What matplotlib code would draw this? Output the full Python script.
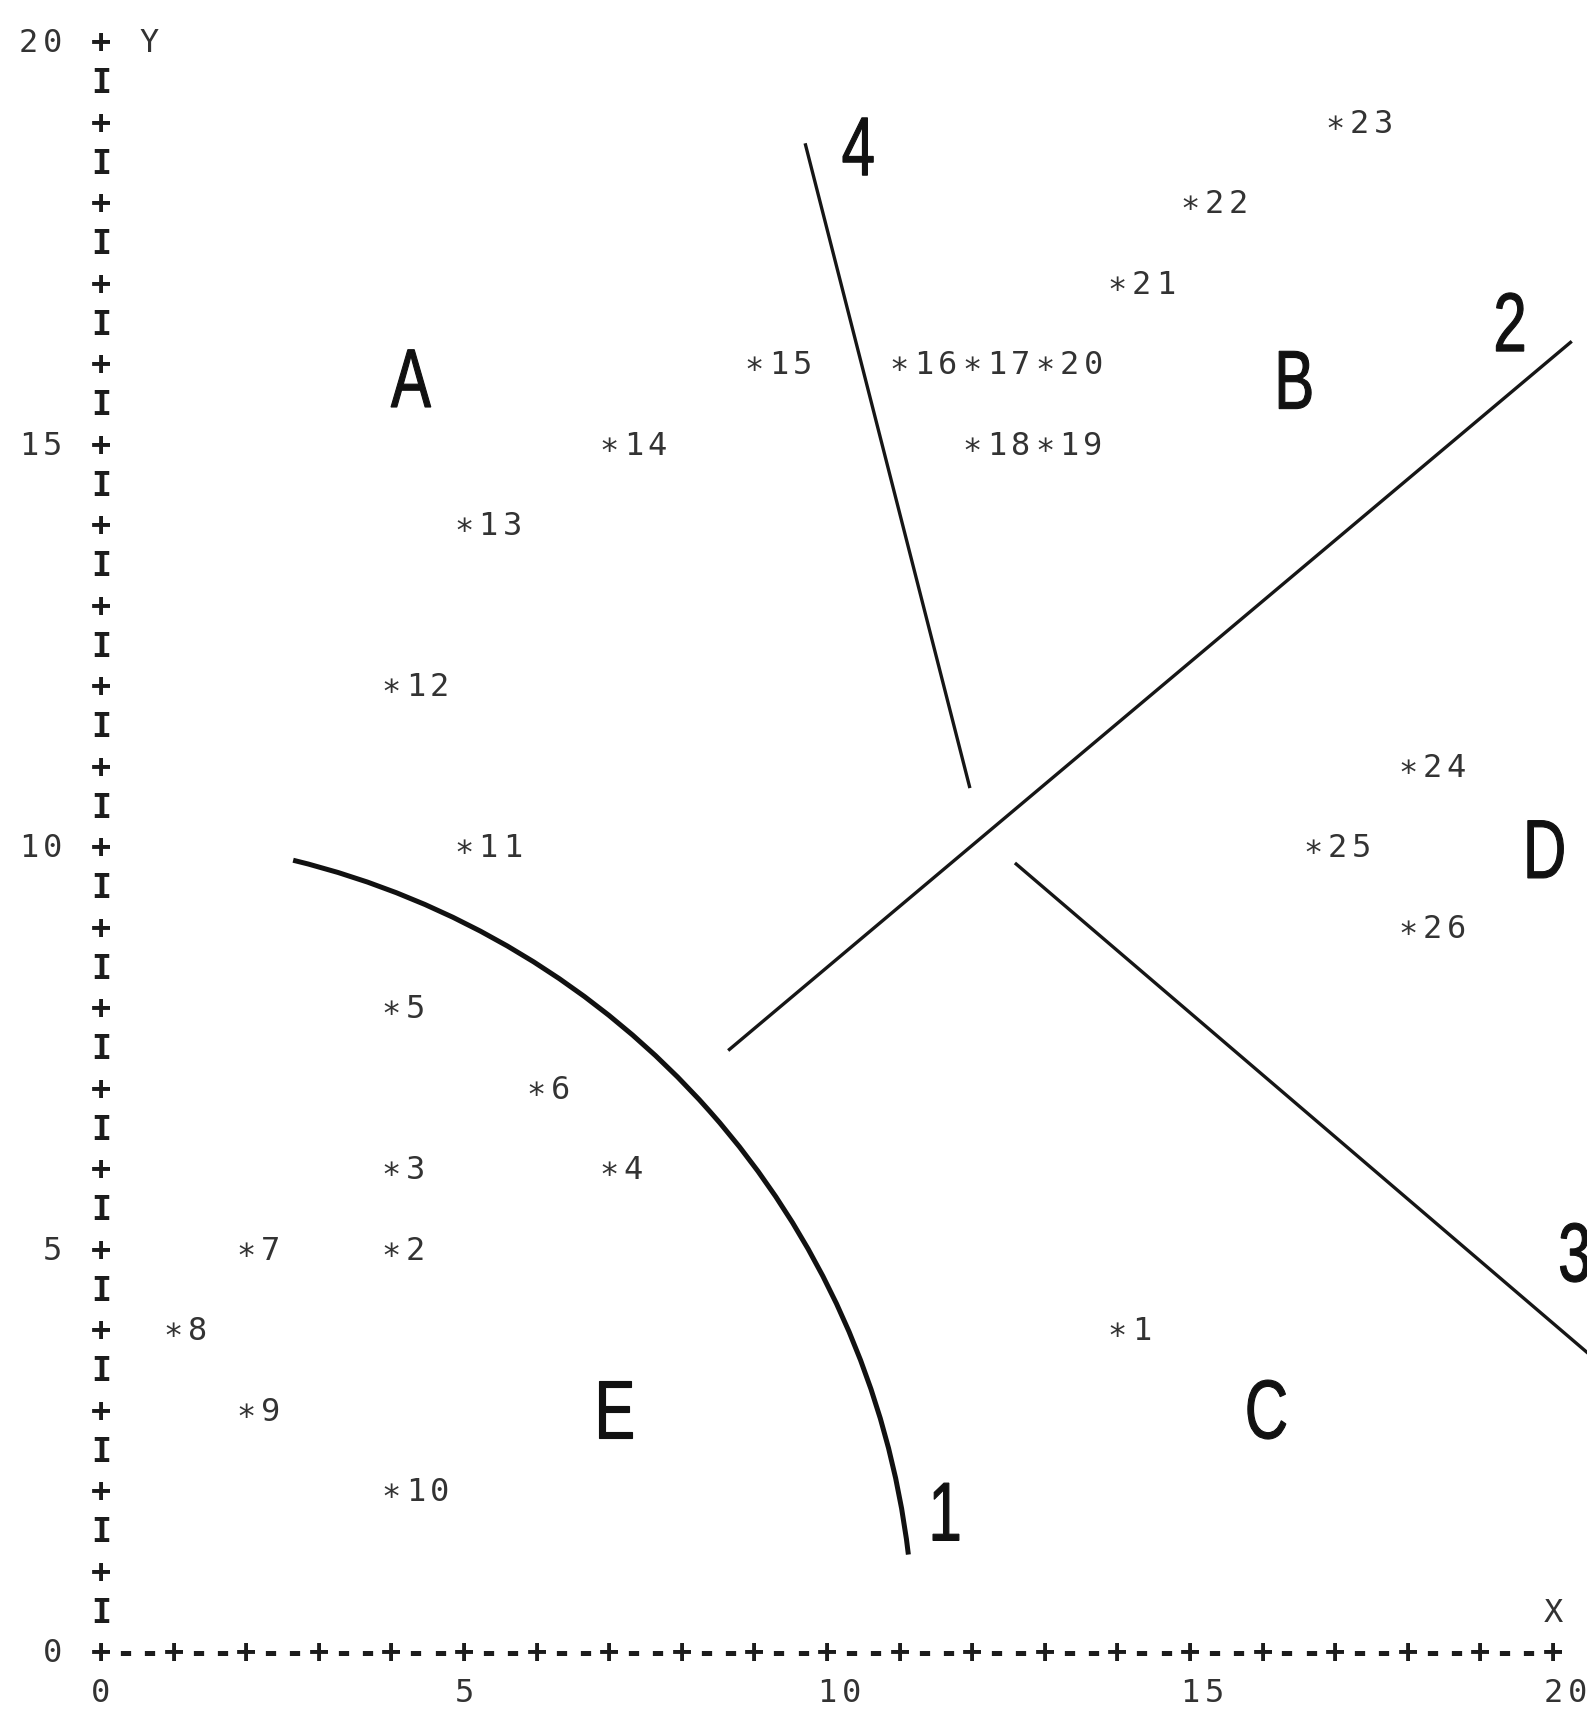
import matplotlib.pyplot as plt
import matplotlib.transforms as mtransforms
from matplotlib.font_manager import FontProperties
from matplotlib.patches import Arc, PathPatch
from matplotlib.textpath import TextPath

# points
point_ids = list(range(1, 27))
point_x = [14, 4, 4, 7, 4, 6, 2, 1, 2, 4, 5, 4, 5, 7, 9, 11, 12, 12, 13, 13, 14, 15, 17, 18, 16.7, 18]
point_y = [4, 5, 6, 6, 8, 7, 5, 4, 3, 2, 10, 12, 14, 15, 16, 16, 16, 15, 15, 16, 17, 18, 19, 11, 10, 9]

# boundary 1: arc round the origin, from about (11.18, 1.20) up to (2.64, 9.80)
curve1_rx = 11.2
curve1_ry = 10.1
curve1_theta = (6.1, 74.9)
# boundaries 2-4 (straight)
line2_x = [8.64, 20.26]
line2_y = [7.45, 16.26]
line3_x = [12.59, 20.6]
line3_y = [9.78, 3.60]
line4_x = [9.70, 11.97]
line4_y = [18.72, 10.71]

boundary_names = ['1', '2', '3', '4']
boundary_x = [11.64, 19.41, 20.30, 10.43]
boundary_y = [1.72, 16.50, 4.94, 18.68]

region_names = ['A', 'B', 'C', 'D', 'E']
region_x = [4.27, 16.45, 16.06, 19.90, 7.09]
region_y = [15.80, 15.78, 2.99, 9.95, 2.99]

x_ticks = [0, 5, 10, 15, 20]
y_ticks = [0, 5, 10, 15, 20]

PITCH = 1 / 3  # one typewriter column, in x units
MONO = ['DejaVu Sans Mono', 'DejaVu Sans']


def typewrite(ax, x, y, s, **kw):
    for i, ch in enumerate(s):
        ax.text(x + i * PITCH, y, ch, ha='center', va='center_baseline',
                family=MONO, **kw)


def big_label(ax, x, y, s):
    # condensed lettering: squeeze a normal sans glyph sideways
    tp = TextPath((0, 0), s, size=60, prop=FontProperties(family='Liberation Sans'))
    bb = tp.get_extents()
    k = ax.figure.dpi / 72
    tr = (mtransforms.Affine2D()
          .translate(-(bb.x0 + bb.x1) / 2, -(bb.y0 + bb.y1) / 2)
          .scale(0.72 * k, k)
          + mtransforms.ScaledTranslation(x, y, ax.transData))
    ax.add_patch(PathPatch(tp, transform=tr, fc='#111111', ec='#111111', lw=0.8))


fig = plt.figure(figsize=(15.87, 17.09), dpi=100)
ax = fig.add_axes([0, 0, 1, 1])
ax.set_xlim(-1.39, 20.47)
ax.set_ylim(-0.73, 20.50)
ax.axis('off')

axis_kw = dict(fontsize=24, color='#1c1c1c', fontweight='bold')
lab_kw = dict(fontsize=23, color='#333333')

# y axis: + at whole units, I at half units
for k in range(0, 21):
    typewrite(ax, 0, k, '+', **axis_kw)
    if k < 20:
        typewrite(ax, 0, k + 0.5, 'I', **axis_kw)
# x axis: + at whole units, two dashes between
for k in range(1, 21):
    typewrite(ax, k, 0, '+', **axis_kw)
    typewrite(ax, k - 2 * PITCH, 0, '--', **axis_kw)

for v in y_ticks:
    s = str(v)
    typewrite(ax, -(len(s) + 1) * PITCH, v, s, **lab_kw)
for v in x_ticks:
    typewrite(ax, v, -0.5, str(v), **lab_kw)
typewrite(ax, 2 * PITCH, 20, 'Y', **lab_kw)
typewrite(ax, 20, 0.5, 'X', **lab_kw)

# numbered points
for pid, px, py in zip(point_ids, point_x, point_y):
    typewrite(ax, px, py, '\u2217' + str(pid), **lab_kw)

# boundaries
ax.add_patch(Arc((0, 0), 2 * curve1_rx, 2 * curve1_ry,
                 theta1=curve1_theta[0], theta2=curve1_theta[1],
                 color='#111111', lw=3.6, capstyle='butt'))
for lx, ly in [(line2_x, line2_y), (line3_x, line3_y), (line4_x, line4_y)]:
    ax.plot(lx, ly, color='#161616', lw=2.4, solid_capstyle='butt')

for name, bx, by in zip(boundary_names, boundary_x, boundary_y):
    big_label(ax, bx, by, name)
for name, rx, ry in zip(region_names, region_x, region_y):
    big_label(ax, rx, ry, name)

fig.savefig('out.png', dpi=100)
